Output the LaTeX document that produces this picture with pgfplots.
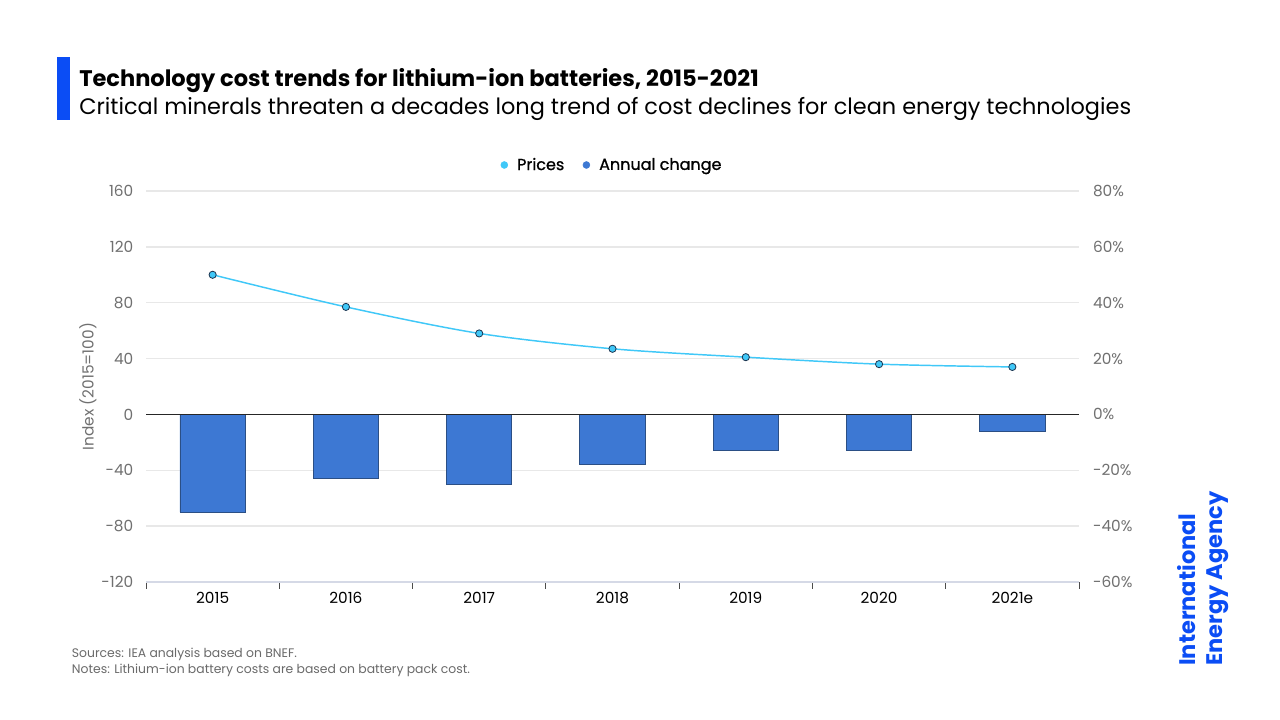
\documentclass[border=0pt]{standalone}
\usepackage{pgfplots}
\pgfplotsset{compat=1.18}
\usepackage{fontspec}
\setmainfont{Poppins}
\definecolor{ieablue}{HTML}{0B4DF5}
\definecolor{barblue}{HTML}{3D78D3}
\definecolor{baredge}{HTML}{2B4F85}
\definecolor{linecyan}{HTML}{40C8F8}
\definecolor{markedge}{HTML}{1C3550}
\definecolor{gridgray}{HTML}{E8E8E8}
\definecolor{axisgray}{HTML}{D5D9E6}
\definecolor{ticklab}{HTML}{707070}
\definecolor{notegray}{HTML}{6A6A6A}
\begin{document}
\begin{tikzpicture}
\path[use as bounding box, fill=white] (0pt,0pt) rectangle (960pt,540pt);
% title block
\fill[ieablue] (42.75pt,497.25pt) rectangle (52.5pt,450pt);
\node[anchor=base west, inner sep=0, font=\fontsize{16.9}{19}\selectfont\bfseries] at (59.25pt,475pt) {Technology cost trends for lithium-ion batteries, 2015-2021};
\node[anchor=base west, inner sep=0, font=\fontsize{16.8}{19}\selectfont] at (59.25pt,453.75pt) {Critical minerals threaten a decades long trend of cost declines for clean energy technologies};
% bars (right axis)
\begin{axis}[
  at={(109.5pt,103.5pt)}, anchor=south west, scale only axis,
  width=699.75pt, height=293.25pt,
  xmin=-0.5, xmax=6.5, ymin=-60, ymax=80,
  axis y line*=right, axis x line*=bottom,
  y axis line style={draw=none},
  x axis line style={draw=axisgray, line width=1.1pt, -},
  ytick={-60,-40,-20,0,20,40,60,80},
  yticklabels={-60\%,-40\%,-20\%,0\%,20\%,40\%,60\%,80\%},
  yticklabel style={font=\fontsize{11.5}{13}\selectfont, text=ticklab, xshift=7pt},
  ymajorgrids, grid style={gridgray, line width=1.1pt},
  major tick length=0pt,
  xtick={0,...,6}, xticklabels={2015,2016,2017,2018,2019,2020,2021e},
  xticklabel style={font=\fontsize{11.5}{13}\selectfont, text=black, yshift=-4pt},
  minor xtick={-0.5,0.5,...,6.5}, minor tick length=5.25pt, tick align=outside,
  minor tick style={draw=black!70, line width=0.75pt},
  ybar, bar width=0.49,
]
\addplot[fill=barblue, draw=baredge, line width=0.6pt] coordinates {
  (0,-35) (1,-23) (2,-25) (3,-18) (4,-13) (5,-13) (6,-6)};
\draw[black!85, line width=0.8pt] (axis cs:-0.5,0) -- (axis cs:6.5,0);
\end{axis}
% prices (left axis)
\begin{axis}[
  at={(109.5pt,103.5pt)}, anchor=south west, scale only axis,
  width=699.75pt, height=293.25pt,
  xmin=-0.5, xmax=6.5, ymin=-120, ymax=160,
  axis x line=none, axis y line*=left,
  y axis line style={draw=none},
  ytick={-120,-80,-40,0,40,80,120,160},
  yticklabels={-120,-80,-40,0,40,80,120,160},
  yticklabel style={font=\fontsize{11.5}{13}\selectfont, text=ticklab, xshift=-6pt},
  major tick length=0pt,
  ylabel={Index (2015=100)},
  ylabel style={at={(axis description cs:-0.0622,0.5)}, anchor=center, font=\fontsize{11.5}{13}\selectfont, text=ticklab},
  legend style={at={(0.5,1)}, anchor=center, yshift=19.5pt, draw=none, fill=none,
    font=\fontsize{12}{15}\selectfont\addfontfeatures{FakeBold=1},
    /tikz/every odd column/.append style={column sep=5pt},
    /tikz/every even column/.append style={column sep=12pt}},
  legend columns=2, legend cell align=left,
  clip=false,
]
\addlegendimage{only marks, mark=*, mark size=2.6pt, mark options={fill=linecyan, draw=linecyan}}
\addlegendentry{Prices}
\addlegendimage{only marks, mark=*, mark size=2.6pt, mark options={fill=barblue, draw=barblue}}
\addlegendentry{Annual change}
\addplot[linecyan, line width=1.1pt, smooth, mark=*, mark size=2.7pt,
  mark options={fill=linecyan, draw=markedge, line width=0.6pt}, forget plot] coordinates {
  (0,100) (1,77) (2,58) (3,47) (4,41) (5,36) (6,34)};
\end{axis}
% notes
\node[anchor=base west, inner sep=0, font=\fontsize{9.3}{11}\selectfont, text=notegray] at (53.75pt,47pt) {Sources: IEA analysis based on BNEF.};
\node[anchor=base west, inner sep=0, font=\fontsize{9.3}{11}\selectfont, text=notegray] at (53.75pt,35pt) {Notes: Lithium-ion battery costs are based on battery pack cost.};
% logo
\node[rotate=90, anchor=north west, inner sep=0, align=left, text=ieablue,
  font=\fontsize{16.9}{20.5}\selectfont\bfseries] at (882.75pt,40.5pt) {International\\Energy Agency};
\end{tikzpicture}
\end{document}
